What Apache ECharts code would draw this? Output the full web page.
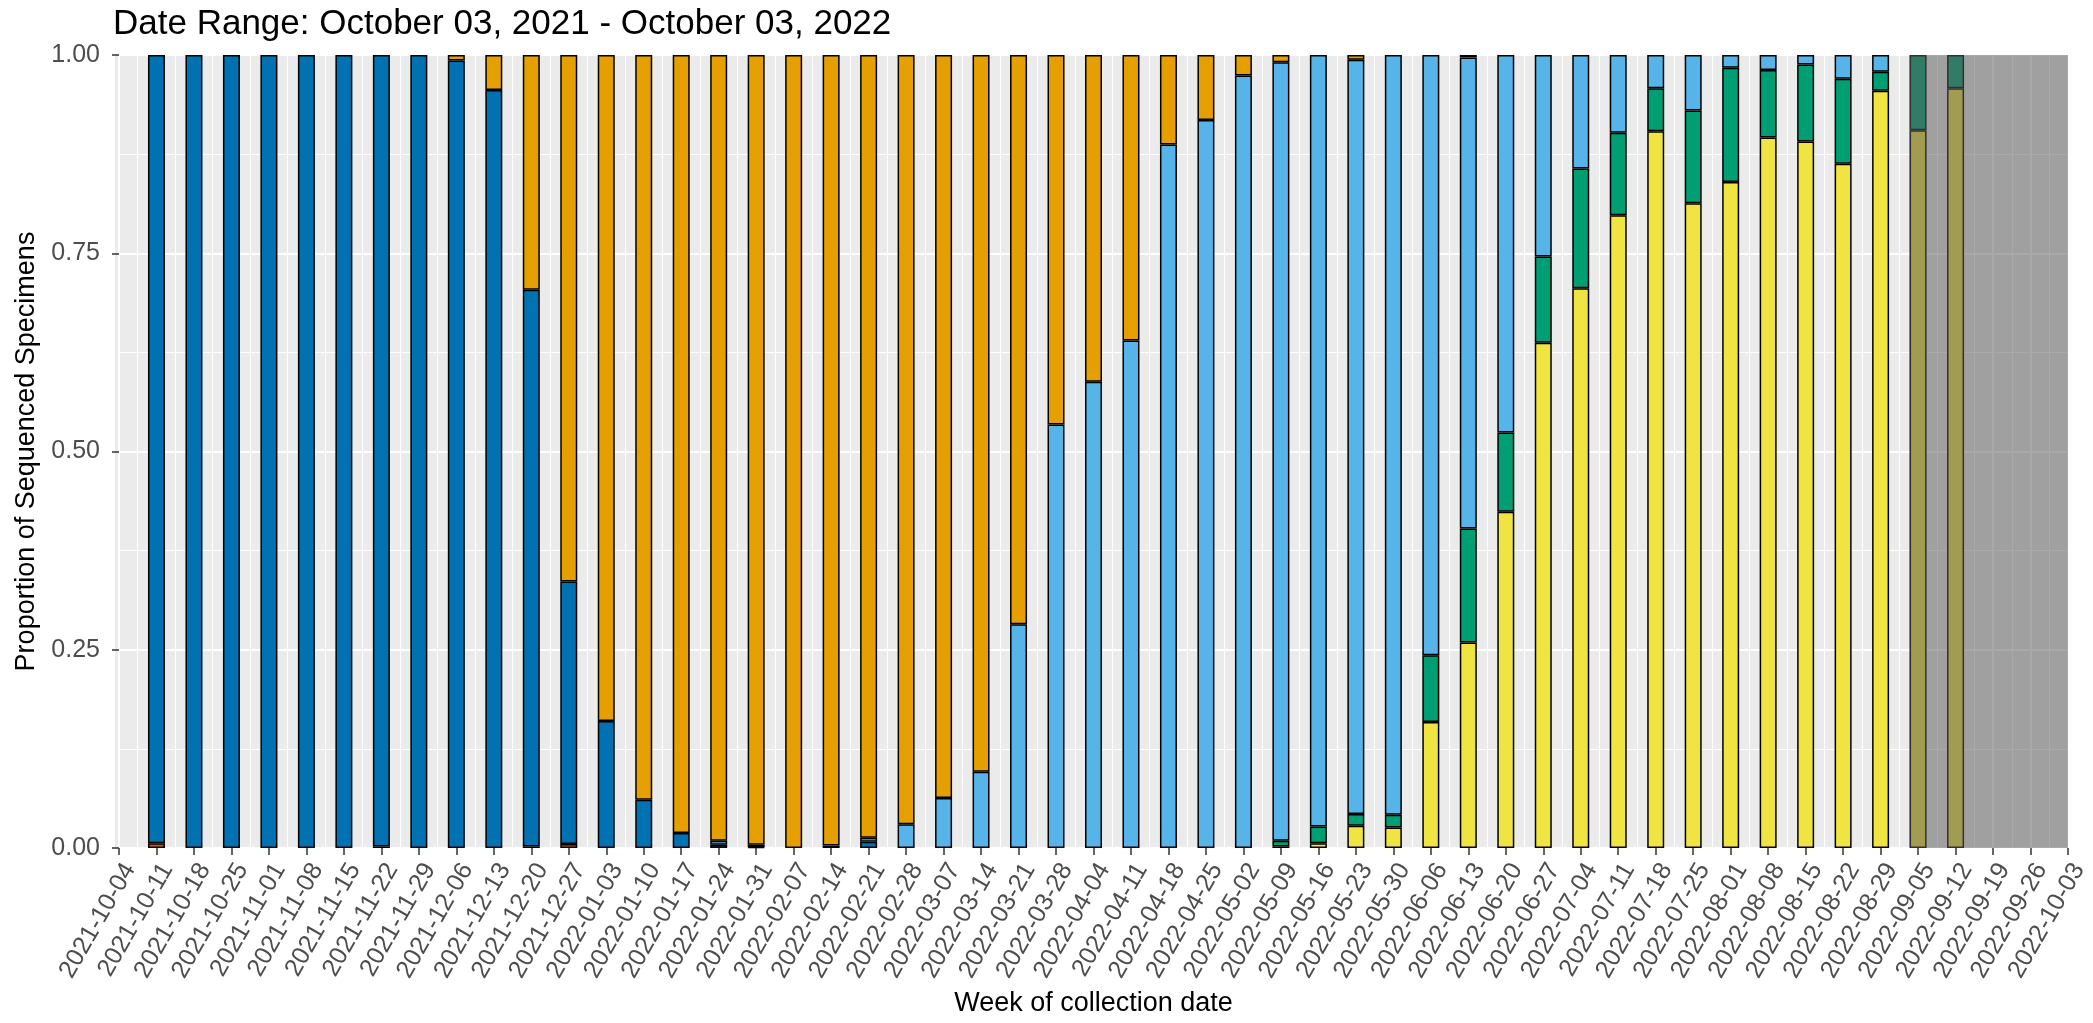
<!DOCTYPE html>
<html>
<head>
<meta charset="utf-8">
<script src="https://cdn.jsdelivr.net/npm/echarts@6/dist/echarts.min.js"></script>
<style>
html,body{margin:0;padding:0;background:#fff;}
#chart{width:2093px;height:1023px;}
</style>
</head>
<body>
<div id="chart"></div>
<script>
const weeks = [
'2021-10-04','2021-10-11','2021-10-18','2021-10-25','2021-11-01','2021-11-08','2021-11-15','2021-11-22','2021-11-29',
'2021-12-06','2021-12-13','2021-12-20','2021-12-27','2022-01-03','2022-01-10','2022-01-17','2022-01-24','2022-01-31',
'2022-02-07','2022-02-14','2022-02-21','2022-02-28','2022-03-07','2022-03-14','2022-03-21','2022-03-28','2022-04-04',
'2022-04-11','2022-04-18','2022-04-25','2022-05-02','2022-05-09','2022-05-16','2022-05-23','2022-05-30','2022-06-06',
'2022-06-13','2022-06-20','2022-06-27','2022-07-04','2022-07-11','2022-07-18','2022-07-25','2022-08-01','2022-08-08',
'2022-08-15','2022-08-22','2022-08-29','2022-09-05','2022-09-12','2022-09-19','2022-09-26','2022-10-03'
];
// bars run from 2021-10-11 (week index 1) to 2022-09-12: 49 values per lineage
const firstBarWeek = 1;
const other = [0.006,0,0,0,0,0,0.002,0,0,0,0.002,0.005,0,0,0,0,0.001,0,0,0,0,0,0,0,0,0,0,0,0,0,0,0,0,0,0,0,0,0,0,0,0,0,0,0,0,0,0,0,0];
const delta = [0.994,1,1,1,1,1,0.998,1,0.993,0.956,0.702,0.331,0.160,0.061,0.019,0.004,0.003,0,0.003,0.008,0,0,0,0,0,0,0,0,0,0,0,0,0,0,0,0,0,0,0,0,0,0,0,0,0,0,0,0,0];
const ba5 = [0,0,0,0,0,0,0,0,0,0,0,0,0,0,0,0,0,0,0,0,0,0,0,0,0,0,0,0,0,0,0.002,0.006,0.028,0.026,0.159,0.259,0.424,0.637,0.706,0.798,0.904,0.813,0.840,0.896,0.891,0.863,0.955,0.905,0.958];
const ba4 = [0,0,0,0,0,0,0,0,0,0,0,0,0,0,0,0,0,0,0,0,0,0,0,0,0,0,0,0,0,0,0.007,0.021,0.015,0.016,0.084,0.144,0.100,0.109,0.151,0.104,0.054,0.117,0.144,0.085,0.097,0.107,0.024,0.095,0.042];
const ba2 = [0,0,0,0,0,0,0,0,0,0,0,0,0,0,0,0.005,0,0,0,0.005,0.030,0.063,0.096,0.282,0.534,0.588,0.640,0.887,0.918,0.974,0.982,0.973,0.951,0.958,0.757,0.594,0.476,0.254,0.143,0.098,0.042,0.070,0.016,0.019,0.012,0.030,0.021,0,0];
const ba1 = [0,0,0,0,0,0,0,0,0.007,0.044,0.296,0.664,0.840,0.939,0.981,0.991,0.996,1,0.997,0.987,0.970,0.937,0.904,0.718,0.466,0.412,0.360,0.113,0.082,0.026,0.009,0,0.006,0,0,0.003,0,0,0,0,0,0,0,0,0,0,0,0,0];
const yTicks = [0, 0.25, 0.5, 0.75, 1];
const shadeWeeks = [47.78, 52]; // shaded (incomplete data) period, in week-index units

const lineages = [
  {name:'Other', values: other, color:'#D55E00'},
  {name:'Delta', values: delta, color:'#0072B2'},
  {name:'BA.5', values: ba5, color:'#F0E442'},
  {name:'BA.4', values: ba4, color:'#009E73'},
  {name:'BA.2', values: ba2, color:'#56B4E9'},
  {name:'BA.1', values: ba1, color:'#E69F00'}
];

const font = 'Liberation Sans, Arial, sans-serif';

const series = lineages.map(l => ({
  name: l.name,
  type: 'bar',
  stack: 'total',
  xAxisIndex: 0,
  yAxisIndex: 0,
  barWidth: 17,
  z: 2,
  itemStyle: {color: l.color, borderColor: '#000', borderWidth: 1.5},
  data: weeks.map((w, i) => {
    const k = i - firstBarWeek;
    const v = (k >= 0 && k < l.values.length) ? l.values[k] : 0;
    return v > 0 ? v : '-';
  })
}));

series.push({
  type: 'custom',
  xAxisIndex: 1,
  yAxisIndex: 0,
  z: 10,
  silent: true,
  encode: {x: [0, 1], y: [2, 3]},
  data: [[shadeWeeks[0], shadeWeeks[1], yTicks[0], yTicks[yTicks.length - 1]]],
  renderItem: function (params, api) {
    const p0 = api.coord([api.value(0), api.value(3)]);
    const p1 = api.coord([api.value(1), api.value(2)]);
    return {type: 'rect', shape: {x: p0[0], y: p0[1], width: p1[0] - p0[0], height: p1[1] - p0[1]},
            style: {fill: 'rgba(93,93,93,0.53)'}};
  }
});

const chart = echarts.init(document.getElementById('chart'), null, {renderer: 'canvas'});
chart.setOption({
  animation: false,
  backgroundColor: '#fff',
  title: {
    text: 'Date Range: October 03, 2021 - October 03, 2022',
    left: 108, top: 2,
    textStyle: {fontFamily: font, fontSize: 35, fontWeight: 'normal', color: '#000'}
  },
  graphic: [{type: 'rect', left: 115, top: 55, z: -1, shape: {width: 5, height: 793}, style: {fill: '#EBEBEB'}}],
  grid: {left: 119, right: 25, top: 55, bottom: 175, show: true, backgroundColor: '#EBEBEB', borderWidth: 0,
         containLabel: false, outerBoundsMode: 'none'},
  xAxis: [
    {
      type: 'category', data: weeks, boundaryGap: false,
      name: 'Week of collection date', nameLocation: 'middle', nameGap: 142,
      nameTextStyle: {fontFamily: font, fontSize: 27, color: '#000'},
      axisLine: {show: false},
      axisTick: {show: true, length: 7, interval: 0, lineStyle: {color: '#333', width: 1.5}},
      axisLabel: {interval: 0, rotate: 60, fontFamily: font, fontSize: 25, color: '#4D4D4D',
                  margin: 11, align: 'right', verticalAlign: 'top'},
      splitLine: {show: false}
    },
    {
      type: 'value', min: 0, max: 52, interval: 1, show: true,
      axisLine: {show: false}, axisTick: {show: false}, axisLabel: {show: false},
      splitLine: {show: true, lineStyle: {color: '#fff', width: 2}},
      minorTick: {show: false, splitNumber: 2},
      minorSplitLine: {show: true, lineStyle: {color: '#fff', width: 1}}
    }
  ],
  yAxis: {
    type: 'value', min: yTicks[0], max: yTicks[yTicks.length - 1], interval: 0.25, offset: 4,
    name: 'Proportion of Sequenced Specimens', nameLocation: 'middle', nameRotate: 90, nameGap: 64,
    nameTextStyle: {fontFamily: font, fontSize: 27, color: '#000'},
    axisLine: {show: false},
    axisTick: {show: true, length: 7, lineStyle: {color: '#333', width: 1.5}},
    axisLabel: {fontFamily: font, fontSize: 25, color: '#4D4D4D', margin: 15, formatter: v => v.toFixed(2)},
    splitLine: {show: true, lineStyle: {color: '#fff', width: 2}},
    minorTick: {show: false, splitNumber: 2},
    minorSplitLine: {show: true, lineStyle: {color: '#fff', width: 1}}
  },
  series: series
});
</script>
</body>
</html>
